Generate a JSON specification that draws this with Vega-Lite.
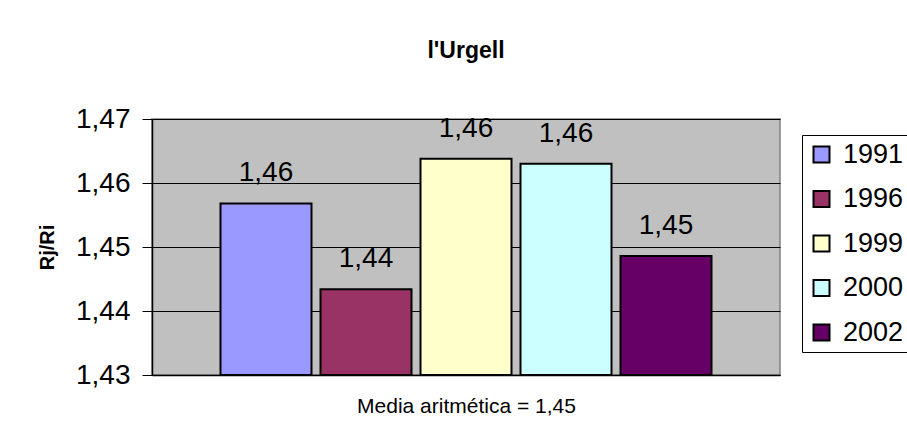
{
  "$schema": "https://vega.github.io/schema/vega-lite/v6.json",
  "autosize": "none",
  "width": 628,
  "height": 256,
  "padding": {"left": 152, "top": 119, "right": 127, "bottom": 62},
  "background": "white",
  "title": {
    "text": "l'Urgell",
    "font": "Liberation Sans",
    "fontSize": 23,
    "fontWeight": "bold",
    "color": "black",
    "anchor": "middle",
    "offset": 42
  },
  "data": {
    "values": [
      {"year": "1991", "value": 1.4568},
      {"year": "1996", "value": 1.4434},
      {"year": "1999", "value": 1.4638},
      {"year": "2000", "value": 1.4630},
      {"year": "2002", "value": 1.4486}
    ]
  },
  "encoding": {
    "x": {
      "field": "year",
      "type": "nominal",
      "scale": {"paddingInner": 0.09, "paddingOuter": 0.685},
      "axis": {
        "title": "Media aritmética = 1,45",
        "labels": false,
        "ticks": false,
        "domainColor": "black",
        "domainWidth": 1.5,
        "titleFont": "Liberation Sans",
        "titleFontSize": 21,
        "titleFontWeight": "normal",
        "titleColor": "black",
        "titlePadding": 20
      }
    },
    "y": {
      "field": "value",
      "type": "quantitative",
      "scale": {"domain": [1.43, 1.47], "zero": false, "nice": false},
      "axis": {
        "title": "Rj/Ri",
        "values": [1.43, 1.44, 1.45, 1.46, 1.47],
        "format": ".2f",
        "labelFont": "Liberation Sans",
        "labelFontSize": 28,
        "labelColor": "black",
        "labelPadding": 12,
        "tickSize": 10,
        "tickColor": "black",
        "domainColor": "black",
        "domainWidth": 1.5,
        "grid": true,
        "gridColor": "black",
        "gridWidth": 1,
        "titleFont": "Liberation Sans",
        "titleFontSize": 20,
        "titleFontWeight": "bold",
        "titleColor": "black",
        "titlePadding": 18
      }
    }
  },
  "layer": [
    {
      "mark": {"type": "bar", "stroke": "black", "strokeWidth": 2, "clip": true},
      "encoding": {
        "y2": {"datum": 1.43},
        "color": {
          "field": "year",
          "type": "nominal",
          "scale": {
            "domain": ["1991", "1996", "1999", "2000", "2002"],
            "range": ["#9999FF", "#993366", "#FFFFCC", "#CCFFFF", "#660066"]
          },
          "legend": {
            "title": null,
            "orient": "none",
            "legendX": 650,
            "legendY": 16,
            "symbolType": "square",
            "symbolSize": 256,
            "symbolStrokeColor": "black",
            "symbolStrokeWidth": 2,
            "symbolOpacity": 1,
            "labelFont": "Liberation Sans",
            "labelFontSize": 27,
            "labelColor": "black",
            "labelOffset": 8,
            "rowPadding": 16.5,
            "padding": 6,
            "strokeColor": "black",
            "fillColor": "white"
          }
        }
      }
    },
    {
      "mark": {
        "type": "text",
        "baseline": "alphabetic",
        "dy": -22,
        "font": "Liberation Sans",
        "fontSize": 28,
        "color": "black"
      },
      "encoding": {
        "text": {"field": "value", "type": "quantitative", "format": ".2f"}
      }
    }
  ],
  "config": {
    "locale": {
      "number": {
        "decimal": ",",
        "thousands": ".",
        "grouping": [3],
        "currency": ["", " €"]
      }
    },
    "view": {"fill": "#C0C0C0", "stroke": "#808080", "strokeWidth": 1.5}
  }
}
